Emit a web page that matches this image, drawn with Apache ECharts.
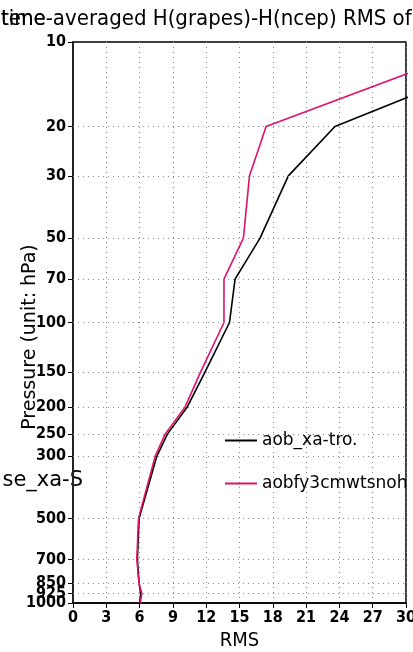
<!DOCTYPE html>
<html><head><meta charset="utf-8">
<script src="https://cdn.jsdelivr.net/npm/echarts@6/dist/echarts.min.js"></script>
<style>html,body{margin:0;padding:0;background:#fff}#c{width:413px;height:652px}</style>
</head><body><div id="c"></div>
<script>
const levels = [1000, 925, 850, 700, 500, 300, 250, 200, 150, 100, 70, 50, 30, 20, 10];
const levelsMain = [1000, 850, 700, 500, 300, 250, 200, 150, 100, 70, 50, 30, 20, 10];
const levelsExtra = [925];
const gridLevels = [925, 850, 700, 500, 300, 250, 200, 150, 100, 70, 50, 30, 20];
const xTicks = [0, 3, 6, 9, 12, 15, 18, 21, 24, 27, 30];
const seriesNames = ['aob_xa-tro.', 'aobfy3cmwtsnoh'];
const rmsBlack = [6.0, 6.1, 5.95, 5.8, 5.95, 7.55, 8.5, 10.3, 11.9, 14.1, 14.6, 16.85, 19.4, 23.6, 42.6];
const rmsMagenta = [6.05, 6.2, 5.95, 5.75, 5.9, 7.4, 8.3, 10.1, 11.5, 13.6, 13.6, 15.35, 15.9, 17.4, 37.7];
const titleText = 'time-averaged H(grapes)-H(ncep) RMS of';
const yName = 'Pressure (unit: hPa)';
const sideText = 'se_xa-S';

const FONT = "'Liberation Sans Narrow','DejaVu Sans Condensed','Liberation Sans',sans-serif";
const chart = echarts.init(document.getElementById('c'));
const pairs = arr => arr.map((v, i) => [v, levels[i]]);
const yBase = (labels, showLine) => ({
  type: 'log', logBase: 10, min: 10, max: 1000, inverse: true, position: 'left',
  axisLine: {show: showLine, lineStyle: {color: '#222', width: 2}},
  axisTick: {show: true, length: 5, lineStyle: {color: '#000'}, customValues: labels},
  axisLabel: {fontFamily: FONT, fontSize: 16, fontWeight: 'bold', color: '#000', margin: 7,
    customValues: labels, hideOverlap: false, showMaxLabel: true, showMinLabel: true,
    formatter: v => String(Math.round(v))},
  splitLine: {show: false}
});
chart.setOption({
  animation: false,
  backgroundColor: '#fff',
  graphic: [
    {type: 'text', left: 1, top: 8, style: {text: titleText, font: "22px 'DejaVu Sans Condensed'", fill: '#000'}},
    {type: 'text', left: 1, top: 8, style: {text: 'tene', font: "22px 'DejaVu Sans Condensed'", fill: '#000'}},
    {type: 'text', x: 83, y: 481, style: {text: sideText, font: "21px 'DejaVu Sans'", fill: '#000', align: 'right', verticalAlign: 'middle'}},
    {type: 'text', x: 30, y: 337, rotation: Math.PI / 2, style: {text: yName, font: "19px 'DejaVu Sans'", fill: '#000', align: 'center', verticalAlign: 'middle'}}
  ],
  legend: {
    orient: 'vertical', left: 220, top: 427, itemGap: 26, itemWidth: 32, itemHeight: 2, icon: 'rect',
    textStyle: {fontFamily: 'DejaVu Sans', fontSize: 17, color: '#000'},
    data: seriesNames
  },
  grid: {left: 73, right: 7, top: 42, bottom: 49, outerBoundsMode: 'none', containLabel: false,
    show: true, borderColor: '#000', borderWidth: 1.5},
  xAxis: {
    type: 'value', min: 0, max: 30, interval: 3,
    name: 'RMS', nameLocation: 'middle', nameGap: 27,
    nameTextStyle: {fontFamily: FONT, fontSize: 20, color: '#000'},
    axisLine: {lineStyle: {color: '#000', width: 1.5}},
    axisTick: {show: true, length: 5, lineStyle: {color: '#000'}},
    axisLabel: {fontFamily: FONT, fontSize: 16, fontWeight: 'bold', color: '#000', margin: 7,
      customValues: xTicks, hideOverlap: false},
    splitLine: {show: true, lineStyle: {color: '#888', type: [1, 4], width: 1}}
  },
  yAxis: [yBase(levelsMain, true), Object.assign(yBase(levelsExtra, false), {offset: 0})],
  series: [
    {name: seriesNames[0], type: 'line', data: pairs(rmsBlack), symbol: 'none',
      lineStyle: {color: '#000', width: 1.6}, itemStyle: {color: '#000'},
      markLine: {silent: true, symbol: 'none', label: {show: false},
        lineStyle: {color: '#888', type: [1, 4], width: 1},
        data: gridLevels.map(p => ({yAxis: p}))}},
    {name: seriesNames[1], type: 'line', data: pairs(rmsMagenta), symbol: 'none',
      lineStyle: {color: '#e0106c', width: 1.6}, itemStyle: {color: '#e0106c'}}
  ]
});
</script></body></html>
